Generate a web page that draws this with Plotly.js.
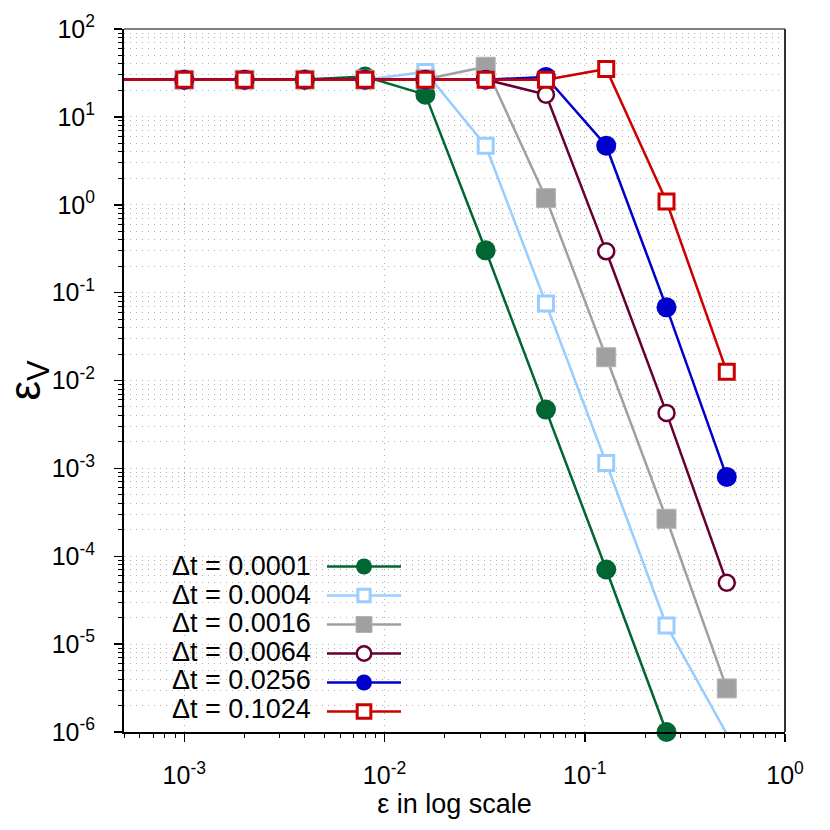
<!DOCTYPE html>
<html><head><meta charset="utf-8">
<script src="https://cdn.plot.ly/plotly-3.0.1.min.js"></script>
<style>html,body{margin:0;padding:0;background:#fff}#chart{width:830px;height:830px}</style>
</head><body><div id="chart"></div>
<script>
// ---- data ----
const epsilon   = [0.00025, 0.001, 0.002, 0.004, 0.008, 0.016, 0.032, 0.064, 0.128, 0.256, 0.512];
const errDt0001 = [26.5, 26.5, 26.5, 26.6, 28.8, 17.9, 0.303, 0.00467, 7.06e-5, 1.0e-6, null];
const errDt0004 = [26.5, 26.5, 26.5, 26.5, 26.5, 32.5, 4.7, 0.075, 0.00115, 1.63e-5, 9.5e-7];
const errDt0016 = [26.5, 26.5, 26.5, 26.5, 26.5, 26.8, 37.2, 1.19, 0.0184, 2.67e-4, 3.13e-6];
const errDt0064 = [26.5, 26.5, 26.5, 26.5, 26.5, 26.5, 26.6, 17.9, 0.295, 0.00428, 5.0e-5];
const errDt0256 = [26.5, 26.5, 26.5, 26.5, 26.5, 26.5, 26.5, 28.5, 4.7, 0.068, 8.0e-4];
const errDt1024 = [26.5, 26.5, 26.5, 26.5, 26.5, 26.5, 26.5, 26.5, 35.1, 1.09, 0.0126];
const seriesLabels = ['Δt = 0.0001', 'Δt = 0.0004', 'Δt = 0.0016', 'Δt = 0.0064', 'Δt = 0.0256', 'Δt = 0.1024'];
const xTickVals = [0.001, 0.01, 0.1, 1];
const xTickText = ['10<sup>-3</sup>', '10<sup>-2</sup>', '10<sup>-1</sup>', '10<sup>0</sup>'];
const yTickVals = [1e-6, 1e-5, 1e-4, 1e-3, 1e-2, 1e-1, 1, 10, 100];
const yTickText = ['10<sup>-6</sup>', '10<sup>-5</sup>', '10<sup>-4</sup>', '10<sup>-3</sup>', '10<sup>-2</sup>', '10<sup>-1</sup>', '10<sup>0</sup>', '10<sup>1</sup>', '10<sup>2</sup>'];
const xTitle = 'ε in log scale';
const yTitle = 'ε<sub>V</sub>';

// ---- styling ----
const FONT = '"Liberation Sans", Arial, Helvetica, sans-serif';
const xRange = [Math.log10(0.0005), 0];
const yRange = [-6, 2];
const styles = [
  {color: '#006633', symbol: 'circle', fill: '#006633', size: 20, lw: 0},
  {color: '#99ccff', symbol: 'square', fill: '#ffffff', size: 15, lw: 3},
  {color: '#a0a0a0', symbol: 'square', fill: '#a0a0a0', size: 19, lw: 1, lc: '#b4b4b4'},
  {color: '#660033', symbol: 'circle', fill: '#ffffff', size: 16, lw: 2.5},
  {color: '#0000cc', symbol: 'circle', fill: '#0000cc', size: 20, lw: 0},
  {color: '#cc0000', symbol: 'square', fill: '#ffffff', size: 15, lw: 3}
];
const allSeries = [errDt0001, errDt0004, errDt0016, errDt0064, errDt0256, errDt1024];

function inRange(x, y) {
  if (y === null) return false;
  const lx = Math.log10(x), ly = Math.log10(y);
  return lx >= xRange[0] - 1e-9 && lx <= xRange[1] + 1e-9 && ly >= yRange[0] - 1e-9 && ly <= yRange[1] + 1e-9;
}

const traces = allSeries.map((ys, i) => {
  const s = styles[i];
  return {
    x: epsilon, y: ys, type: 'scatter', mode: 'lines+markers',
    name: '', hovertext: seriesLabels[i],
    cliponaxis: false,
    line: {color: s.color, width: 2.5},
    marker: {
      symbol: s.symbol, color: s.fill, opacity: 1,
      size: ys.map((v, k) => inRange(epsilon[k], v) ? s.size : 0),
      line: {color: s.lc || s.color, width: s.lw}
    }
  };
});

function minorVals(lo, hi) {
  const out = [];
  for (let e = lo; e < hi; e++) for (let d = 2; d <= 9; d++) out.push(d * Math.pow(10, e));
  return out;
}

const L = 124, R = 785, T = 29, B = 732;
const W = R - L, H = B - T;
const px = v => (v - L) / W;
const py = v => (B - v) / H;

const legendRows = [566, 594.5, 623, 651.5, 680, 708.5];
const annotations = seriesLabels.map((t, i) => ({
  xref: 'paper', yref: 'paper', x: px(313), y: py(legendRows[i]),
  xanchor: 'right', yanchor: 'middle', showarrow: false,
  text: t, font: {family: FONT, size: 27, color: '#000'}
}));

const gridDash = '1px,5px';
const layout = {
  width: 830, height: 830,
  margin: {l: L, r: 830 - R, t: T, b: 830 - B},
  paper_bgcolor: '#fff', plot_bgcolor: '#fff',
  font: {family: FONT, size: 24, color: '#000'},
  showlegend: true,
  legend: {
    x: px(322), y: py(547), xanchor: 'left', yanchor: 'top',
    bgcolor: 'rgba(0,0,0,0)', borderwidth: 0,
    itemwidth: 74, font: {family: FONT, size: 20},
    traceorder: 'normal'
  },
  xaxis: {
    type: 'log', range: xRange,
    tickmode: 'array', tickvals: xTickVals, ticktext: xTickText,
    ticks: 'outside', ticklen: 8, tickwidth: 1.5, tickcolor: '#000',
    ticklabelstandoff: 12,
    tickfont: {family: FONT, size: 25},
    showline: true, linecolor: '#000', linewidth: 2, mirror: false,
    showgrid: true, gridcolor: '#b0b0b0', gridwidth: 1, griddash: gridDash,
    zeroline: false,
    minor: {tickmode: 'array', tickvals: minorVals(-4, 0), ticks: 'outside', ticklen: 4, tickwidth: 1, tickcolor: '#000', showgrid: false},
    title: {text: xTitle, font: {family: FONT, size: 27}, standoff: 6}
  },
  yaxis: {
    type: 'log', range: yRange,
    tickmode: 'array', tickvals: yTickVals, ticktext: yTickText,
    ticks: 'outside', ticklen: 8, tickwidth: 1.5, tickcolor: '#000',
    ticklabelstandoff: 14,
    tickfont: {family: FONT, size: 25},
    showline: true, linecolor: '#000', linewidth: 2, mirror: false,
    showgrid: true, gridcolor: '#b0b0b0', gridwidth: 1, griddash: gridDash,
    zeroline: false,
    minor: {tickmode: 'array', tickvals: minorVals(-6, 2), ticks: 'outside', ticklen: 4, tickwidth: 1, tickcolor: '#000', showgrid: true, gridcolor: '#b0b0b0', gridwidth: 1, griddash: gridDash},
    title: {text: yTitle, font: {family: FONT, size: 44}, standoff: 4}
  },
  shapes: [
    {type: 'line', xref: 'paper', yref: 'paper', x0: 0, x1: 1, y0: 1, y1: 1, line: {color: '#808080', width: 2}},
    {type: 'line', xref: 'paper', yref: 'paper', x0: 1, x1: 1, y0: 0, y1: 1, line: {color: '#333333', width: 2}}
  ],
  annotations: annotations
};

Plotly.newPlot('chart', traces, layout, {displayModeBar: false, staticPlot: true});
</script>
</body></html>
